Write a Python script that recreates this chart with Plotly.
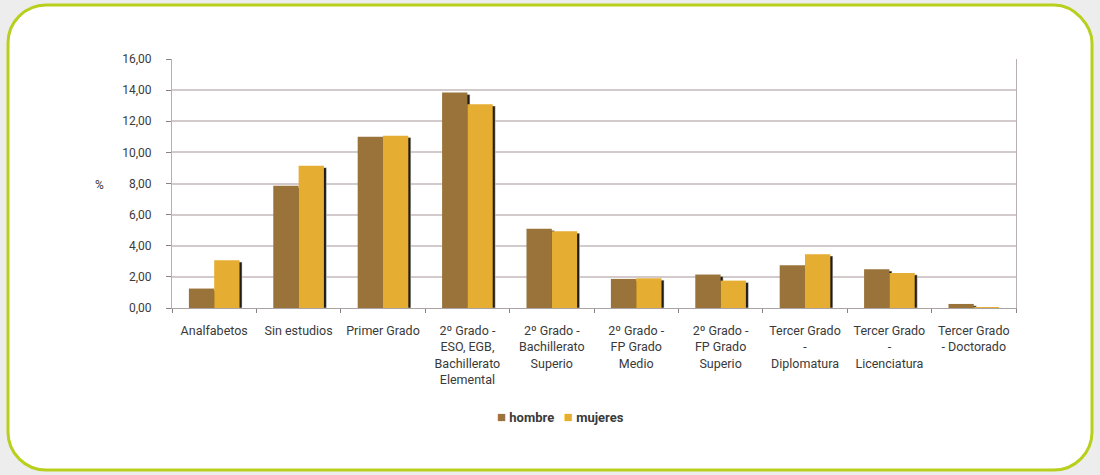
import plotly.graph_objects as go

categories = [
    "Analfabetos",
    "Sin estudios",
    "Primer Grado",
    "2º Grado -<br>ESO, EGB,<br>Bachillerato<br>Elemental",
    "2º Grado -<br>Bachillerato<br>Superio",
    "2º Grado -<br>FP Grado<br>Medio",
    "2º Grado -<br>FP Grado<br>Superio",
    "Tercer Grado<br>-<br>Diplomatura",
    "Tercer Grado<br>-<br>Licenciatura",
    "Tercer Grado<br>- Doctorado",
]
series_names = ["hombre", "mujeres"]
hombre = [1.25, 7.85, 11.00, 13.84, 5.10, 1.87, 2.15, 2.75, 2.49, 0.26]
mujeres = [3.07, 9.14, 11.07, 13.10, 4.93, 1.91, 1.76, 3.46, 2.25, 0.06]
y_ticks = [0, 2, 4, 6, 8, 10, 12, 14, 16]
y_tick_labels = ["0,00", "2,00", "4,00", "6,00", "8,00", "10,00", "12,00", "14,00", "16,00"]

C_H = "#9a733b"
C_M = "#e6ad33"
FONT = "Roboto, sans-serif"
TXT = "#3a3a3a"

W, H = 1100, 475
L, R, T, B = 172, 84, 59, 167
PW, PH = W - L - R, H - T - B


def px(x):
    return (x - L) / PW


def py(y):
    return (H - B - y) / PH


fig = go.Figure()

shadow = dict(color="#221d15")
bw = 0.3
# drop shadows
fig.add_trace(go.Bar(x=categories, y=[max(v - 0.12, 0) for v in hombre], width=bw, offset=-bw + 0.03,
                     marker=shadow, showlegend=False, hoverinfo="skip"))
fig.add_trace(go.Bar(x=categories, y=[max(v - 0.12, 0) for v in mujeres], width=bw, offset=0.03,
                     marker=shadow, showlegend=False, hoverinfo="skip"))
fig.add_trace(go.Bar(x=categories, y=hombre, width=bw, offset=-bw, name=series_names[0],
                     marker=dict(color=C_H, line=dict(width=0)), showlegend=False))
fig.add_trace(go.Bar(x=categories, y=mujeres, width=bw, offset=0, name=series_names[1],
                     marker=dict(color=C_M, line=dict(width=0)), showlegend=False))

# rounded card border
x0, x1, y0, y1, r = 8, 1092, 5, 470, 38
rx, ry = r / PW, r / PH
X0, X1, Y0, Y1 = px(x0), px(x1), py(y0), py(y1)
k = 0.45
path = (
    f"M {X0 + rx},{Y0} L {X1 - rx},{Y0} "
    f"C {X1 - rx * k},{Y0} {X1},{Y0 - ry * (1 - k)} {X1},{Y0 - ry} "
    f"L {X1},{Y1 + ry} "
    f"C {X1},{Y1 + ry * k} {X1 - rx * k},{Y1} {X1 - rx},{Y1} "
    f"L {X0 + rx},{Y1} "
    f"C {X0 + rx * k},{Y1} {X0},{Y1 + ry * k} {X0},{Y1 + ry} "
    f"L {X0},{Y0 - ry} "
    f"C {X0},{Y0 - ry * k} {X0 + rx * k},{Y0} {X0 + rx},{Y0} Z"
)
fig.add_shape(type="path", path=path, xref="paper", yref="paper",
              line=dict(color="#b9cf1e", width=3), fillcolor="white", layer="below")

fig.add_annotation(text="%", x=px(93), y=py(185), xref="paper", yref="paper",
                   showarrow=False, font=dict(family=FONT, size=12, color=TXT))

# compact legend as text
sq = "<span style='color:{c};font-size:15px'>■</span>"
legend_text = (
    sq.format(c=C_H) + f"&nbsp;<b>{series_names[0]}</b>&nbsp;&nbsp;&nbsp;"
    + sq.format(c=C_M) + f"&nbsp;<b>{series_names[1]}</b>"
)
fig.add_annotation(text=legend_text, x=px(560), y=py(417), xref="paper", yref="paper",
                   xanchor="center", yanchor="middle", showarrow=False,
                   font=dict(family=FONT, size=13, color=TXT))

fig.update_layout(
    width=W, height=H,
    margin=dict(l=L, r=R, t=T, b=B, pad=0, autoexpand=False),
    barmode="overlay",
    paper_bgcolor="#ededed",
    plot_bgcolor="white",
    font=dict(family=FONT, size=12.5, color=TXT),
    showlegend=False,
    xaxis=dict(showline=True, linecolor="#aaa3a3", linewidth=1, ticks="outside", tickson="boundaries",
               tickcolor="#8a8282", ticklen=4, showgrid=False, tickangle=0, automargin=False,
               ticklabelstandoff=11, tickfont=dict(size=12.5)),
    yaxis=dict(range=[0, 16], tickvals=y_ticks, ticktext=y_tick_labels, showline=True, mirror=True,
               linecolor="#b7afaf", linewidth=1, ticks="outside", ticklen=5, tickcolor="#8a8282",
               gridcolor="#d3cbcb", gridwidth=1.5, zeroline=False, automargin=False,
               ticklabelstandoff=12, tickfont=dict(size=12)),
)

fig.write_html("out.html", config={"displayModeBar": False},
               post_script="document.body.style.margin='0';")
